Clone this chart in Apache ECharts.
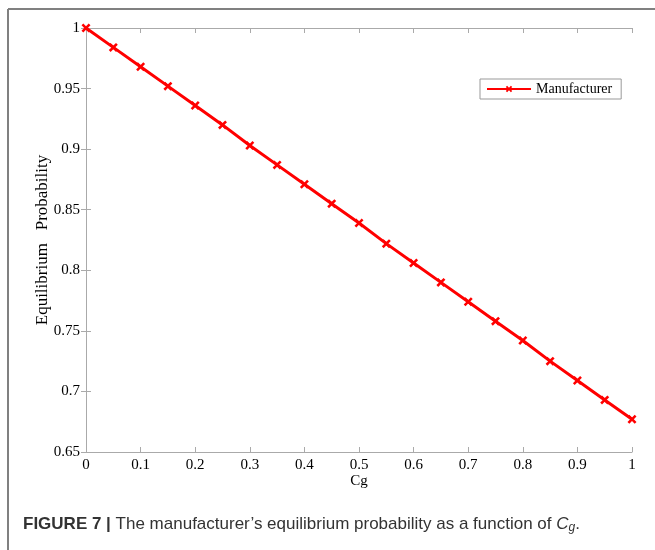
<!DOCTYPE html>
<html><head><meta charset="utf-8">
<script src="https://cdn.jsdelivr.net/npm/echarts@6/dist/echarts.min.js"></script>
<style>html,body{margin:0;padding:0;background:#fff}#c{width:655px;height:550px}</style>
</head><body><div id="c"></div>
<script>
const cgValues = [0,0.05,0.1,0.15,0.2,0.25,0.3,0.35,0.4,0.45,0.5,0.55,0.6,0.65,0.7,0.75,0.8,0.85,0.9,0.95,1];
const manufacturer = [1,0.984,0.968,0.952,0.936,0.920,0.903,0.887,0.871,0.855,0.839,0.822,0.806,0.790,0.774,0.758,0.742,0.725,0.709,0.693,0.677];
const seriesName = 'Manufacturer';
const xTitle = 'Cg';
const yTitle = 'Equilibrium   Probability';

const serif = 'Liberation Serif, Times New Roman, serif';
const crossSym = 'path://M0,2L2,0L5,3L8,0L10,2L7,5L10,8L8,10L5,7L2,10L0,8L3,5Z';
const chart = echarts.init(document.getElementById('c'));
function axisCommon(){
  return {
    axisLine:{show:true,lineStyle:{color:'#aaaaaa',width:1}},
    axisTick:{show:true,inside:true,length:5,lineStyle:{color:'#aaaaaa',width:1}},
    splitLine:{show:false}
  };
}
chart.setOption({
  animation:false,
  backgroundColor:'#fff',
  grid:{left:86,right:23,top:28,bottom:98,containLabel:false},
  legend:{
    data:[seriesName],
    left:480, top:79, orient:'vertical',
    itemWidth:44, itemHeight:8, itemGap:0,
    padding:[3,9,3,6],
    borderColor:'#999', borderWidth:1, borderRadius:0,
    textStyle:{fontFamily:serif,fontSize:14,color:'#000'}
  },
  xAxis:[Object.assign({
    type:'value', min:0, max:1, interval:0.1,
    name:xTitle, nameLocation:'middle', nameGap:22, nameMoveOverlap:false,
    nameTextStyle:{fontFamily:serif,fontSize:15,color:'#000'},
    axisLabel:{fontFamily:serif,fontSize:15,color:'#000',margin:6,
      formatter:v=>String(Math.round(v*10)/10)}
  }, axisCommon()),
  Object.assign({
    type:'value', min:0, max:1, interval:0.1, position:'top',
    axisLabel:{show:false}
  }, axisCommon())],
  yAxis:[Object.assign({
    type:'value', min:0.65, max:1, interval:0.05,
    name:yTitle, nameLocation:'middle', nameGap:35, nameRotate:90, nameMoveOverlap:false,
    nameTextStyle:{fontFamily:serif,fontSize:17,color:'#000'},
    axisLabel:{fontFamily:serif,fontSize:15,color:'#000',margin:6,
      formatter:v=>String(Math.round(v*100)/100)}
  }, axisCommon()),
  Object.assign({
    type:'value', min:0.65, max:1, interval:0.05, position:'right',
    axisLabel:{show:false}
  }, axisCommon())],
  series:[{
    name:seriesName, type:'line',
    data:cgValues.map((x,i)=>[x,manufacturer[i]]),
    lineStyle:{color:'#ff0000',width:3},
    itemStyle:{color:'#ff0000'},
    symbol:crossSym, symbolSize:9, showSymbol:true
  }],
  graphic:[
    {type:'line',shape:{x1:8,y1:9,x2:655,y2:9},style:{stroke:'#808080',lineWidth:2},silent:true},
    {type:'line',shape:{x1:8,y1:9,x2:8,y2:550},style:{stroke:'#808080',lineWidth:2},silent:true},
    {type:'text',left:23,top:516,style:{
      text:'{b|FIGURE 7 |} The manufacturer\u2019s equilibrium probability as a function of {i|C}{s|g}.',
      fontFamily:'Liberation Sans, Arial, sans-serif',fontSize:17,fill:'#333',
      rich:{
        b:{fontWeight:'bold',fontSize:17,fontFamily:'Liberation Sans, Arial, sans-serif',fill:'#333'},
        i:{fontStyle:'italic',fontSize:17,fontFamily:'Liberation Sans, Arial, sans-serif',fill:'#333'},
        s:{fontStyle:'italic',fontSize:12,fontFamily:'Liberation Sans, Arial, sans-serif',fill:'#333',verticalAlign:'bottom',padding:[6,0,0,0]}
      }
    }}
  ]
});
</script></body></html>
